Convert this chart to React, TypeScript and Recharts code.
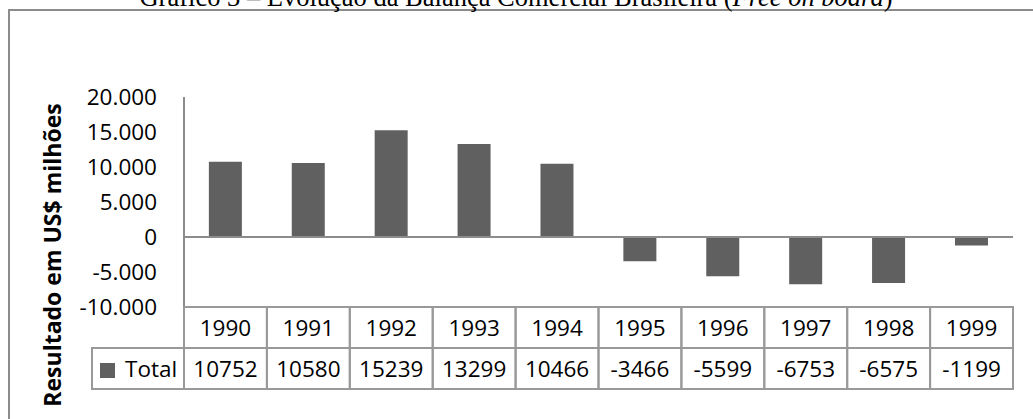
import React from 'react';
import { BarChart, Bar, XAxis, YAxis, ReferenceLine } from 'recharts';

const years = ['1990', '1991', '1992', '1993', '1994', '1995', '1996', '1997', '1998', '1999'];
const totals = [10752, 10580, 15239, 13299, 10466, -3466, -5599, -6753, -6575, -1199];
const yTicks = [-10000, -5000, 0, 5000, 10000, 15000, 20000];
const seriesName = 'Total';
const yLabel = 'Resultado em US$ milhões';

const data = years.map((year, i) => ({ year, total: totals[i] }));

const W = 1033;
const H = 419;
const MARGIN = { top: 97, right: 20, bottom: 30, left: 0 };
const Y_AXIS_W = 184;
const ROW_H = 41;
const CELL_W = (W - MARGIN.left - MARGIN.right - Y_AXIS_W) / years.length;
const LEGEND_W = 92;

const FONT = '"Open Sans", "Noto Sans", sans-serif';
const FS = 22.5;
const BAR = '#606060';
const GRID = '#999999';
const AXIS = '#8c8c8c';

const fmt = (v: number) => {
  const s = String(Math.abs(v)).replace(/\B(?=(\d{3})+(?!\d))/g, '.');
  return v < 0 ? '-' + s : s;
};

const CellTick = (props: any) => {
  const { x, y, payload, index } = props;
  const i = typeof index === 'number' ? index : years.indexOf(payload.value);
  const x0 = x - CELL_W / 2;
  return (
    <g>
      <rect x={x0} y={y} width={CELL_W} height={ROW_H} fill="none" stroke={GRID} strokeWidth={2} />
      <rect x={x0} y={y + ROW_H} width={CELL_W} height={ROW_H} fill="none" stroke={GRID} strokeWidth={2} />
      <text x={x} y={y + ROW_H / 2} textAnchor="middle" dominantBaseline="central" fontFamily={FONT} fontSize={FS} fill="#000">
        {payload.value}
      </text>
      <text x={x} y={y + ROW_H * 1.5} textAnchor="middle" dominantBaseline="central" fontFamily={FONT} fontSize={FS} fill="#000">
        {totals[i]}
      </text>
      {i === 0 && (
        <g>
          <rect x={x0 - LEGEND_W} y={y + ROW_H} width={LEGEND_W} height={ROW_H} fill="none" stroke={GRID} strokeWidth={2} />
          <rect x={x0 - LEGEND_W + 8} y={y + ROW_H + 15} width={15} height={15} fill={BAR} />
          <text x={x0 - LEGEND_W + 33} y={y + ROW_H * 1.5} dominantBaseline="central" fontFamily={FONT} fontSize={FS} fill="#000">
            {seriesName}
          </text>
        </g>
      )}
    </g>
  );
};

export default function App() {
  return (
    <div style={{ position: 'absolute', left: 0, top: 0, width: W, height: H, overflow: 'hidden', background: '#fff' }}>
      <svg width={W} height={H} style={{ position: 'absolute', left: 0, top: 0 }}>
        <path d={`M 9 ${H + 5} V 10 H ${W + 5}`} fill="none" stroke={AXIS} strokeWidth={2} />
        <text x={516} y={6} textAnchor="middle" fontFamily='"Liberation Serif", "Times New Roman", serif' fontSize={26.5} fill="#000">
          Gráfico 3 – Evolução da Balança Comercial Brasileira (<tspan fontStyle="italic">Free on board</tspan>)
        </text>
        <text
          x={52}
          y={255}
          transform="rotate(-90 52 255)"
          textAnchor="middle"
          dominantBaseline="central"
          fontFamily={FONT}
          fontWeight={700}
          fontSize={23}
          fill="#000"
        >
          {yLabel}
        </text>
      </svg>
      <div style={{ position: 'absolute', left: 0, top: 0 }}>
        <BarChart width={W} height={H} data={data} margin={MARGIN} barCategoryGap="30%">
          <XAxis
            dataKey="year"
            height={ROW_H * 2}
            interval={0}
            tickLine={false}
            tickSize={0}
            tickMargin={0}
            axisLine={{ stroke: GRID, strokeWidth: 2 }}
            tick={(p: any) => <CellTick {...p} />}
          />
          <YAxis
            width={Y_AXIS_W}
            domain={[-10000, 20000]}
            ticks={yTicks}
            interval={0}
            tickLine={false}
            tickSize={0}
            tickMargin={27}
            tickFormatter={fmt}
            axisLine={{ stroke: AXIS, strokeWidth: 2 }}
            tick={{ fontFamily: FONT, fontSize: FS, fill: '#000' }}
          />
          <ReferenceLine y={0} stroke={AXIS} strokeWidth={2} />
          <Bar dataKey="total" name={seriesName} fill={BAR} isAnimationActive={false} />
        </BarChart>
      </div>
    </div>
  );
}
